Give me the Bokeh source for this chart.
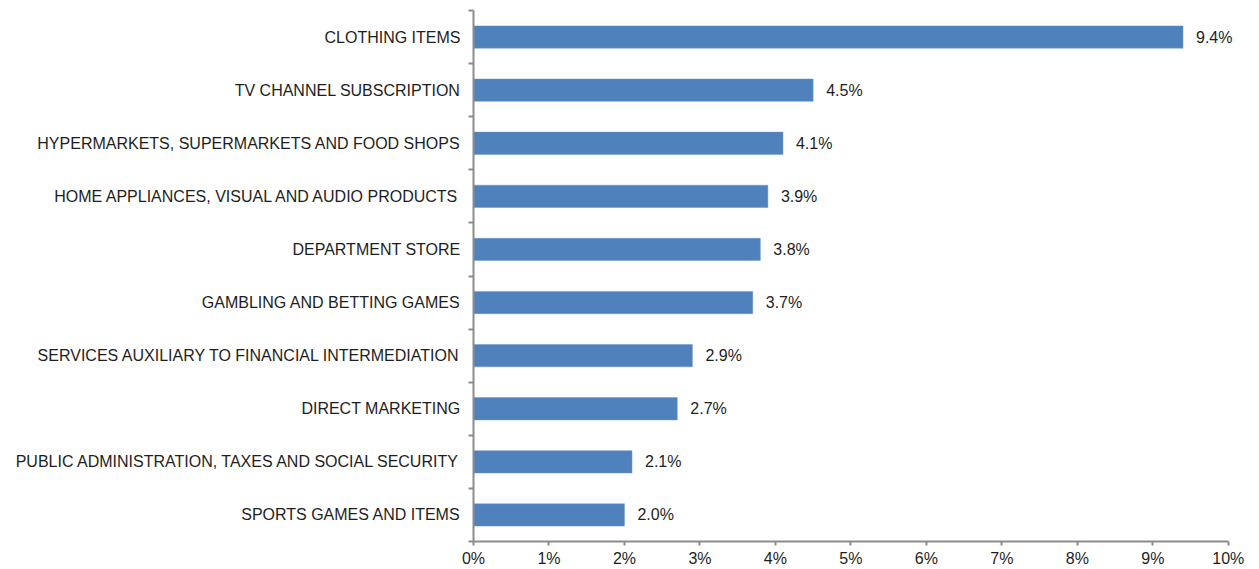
from bokeh.plotting import figure
from bokeh.models import Range1d, FixedTicker, PrintfTickFormatter, ColumnDataSource
from bokeh.core.properties import value
from bokeh.embed import file_html
from bokeh.resources import INLINE

categories = [
    "CLOTHING ITEMS",
    "TV CHANNEL SUBSCRIPTION",
    "HYPERMARKETS, SUPERMARKETS AND FOOD SHOPS",
    "HOME APPLIANCES, VISUAL AND AUDIO PRODUCTS",
    "DEPARTMENT STORE",
    "GAMBLING AND BETTING GAMES",
    "SERVICES AUXILIARY TO FINANCIAL INTERMEDIATION",
    "DIRECT MARKETING",
    "PUBLIC ADMINISTRATION, TAXES AND SOCIAL SECURITY",
    "SPORTS GAMES AND ITEMS",
]
values = [9.4, 4.5, 4.1, 3.9, 3.8, 3.7, 2.9, 2.7, 2.1, 2.0]
x_ticks = list(range(0, 11))

n = len(categories)
ypos = [n - 0.5 - i for i in range(n)]
labels = [f"{v:.1f}%" for v in values]
src = ColumnDataSource(dict(y=ypos, v=values, lab=labels, cat=categories))

FONT = "Liberation Sans"
AX = "#8c8c8c"
TXT = "#1e1e1e"

p = figure(width=1259, height=569, output_backend="svg", toolbar_location=None,
           x_range=Range1d(0, 10.4), y_range=Range1d(0, n),
           min_border_left=473, min_border_right=1, min_border_top=10,
           min_border_bottom=26)
p.outline_line_color = None
p.grid.visible = False
p.background_fill_color = "white"
p.border_fill_color = "white"

p.hbar(y="y", right="v", left=0, height=0.42, source=src,
       fill_color="#4F81BD", line_color="#6f98c8", line_width=0.5)

p.text(x="v", y="y", text="lab", source=src, x_offset=13,
       text_baseline="middle", text_align="left",
       text_font=value(FONT), text_font_size="16px", text_color=TXT)

# y axis
ya = p.yaxis[0]
ya.ticker = FixedTicker(ticks=ypos, minor_ticks=list(range(0, n + 1)))
ya.major_label_overrides = {y: c for y, c in zip(ypos, categories)}
ya.major_tick_out = 0
ya.major_tick_in = 0
ya.minor_tick_out = 5
ya.minor_tick_in = 0
ya.minor_tick_line_color = AX
ya.minor_tick_line_width = 2
ya.axis_line_color = AX
ya.axis_line_width = 2
ya.major_label_text_font = FONT
ya.major_label_text_font_size = "16px"
ya.major_label_text_color = TXT
ya.major_label_standoff = 8

# x axis
xa = p.xaxis[0]
xa.bounds = (0, 10)
xa.ticker = FixedTicker(ticks=x_ticks, minor_ticks=[])
xa.formatter = PrintfTickFormatter(format="%d%%")
xa.major_tick_out = 4
xa.major_tick_in = 0
xa.major_tick_line_color = AX
xa.major_tick_line_width = 2
xa.axis_line_color = AX
xa.axis_line_width = 2
xa.major_label_text_font = FONT
xa.major_label_text_font_size = "16px"
xa.major_label_text_color = TXT
xa.major_label_standoff = 4

open("out.html", "w").write(file_html(p, INLINE))
